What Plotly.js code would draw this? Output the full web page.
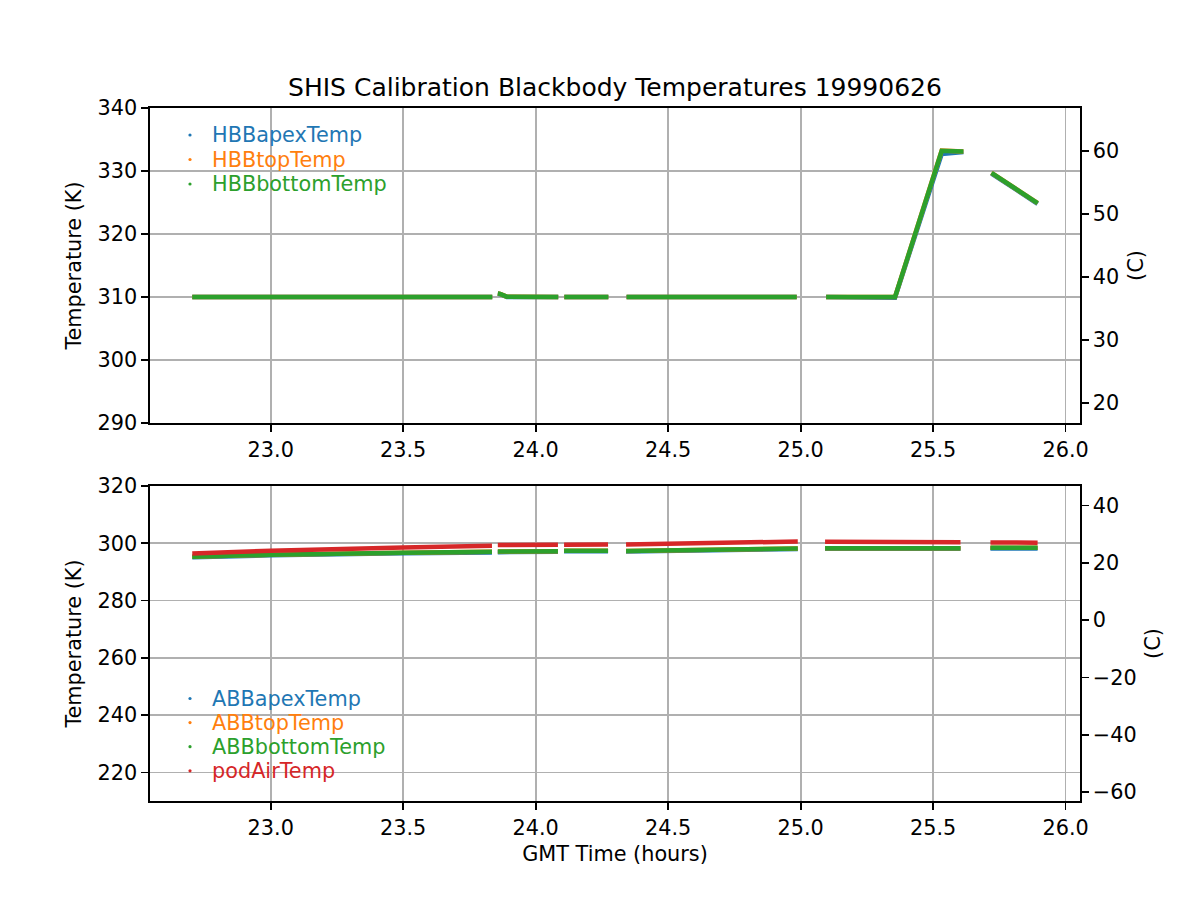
<!DOCTYPE html>
<html>
<head>
<meta charset="utf-8">
<script src="https://cdn.plot.ly/plotly-3.0.1.min.js"></script>
<style>html,body{margin:0;padding:0;background:#fff;}</style>
</head>
<body>
<div id="chart" style="width:1200px;height:900px;"></div>
<script>
// ---- Data (GMT hours, Kelvin) ----
var hbbTime   = [22.704, 23.836, null, 23.857, 23.866, 23.891, 24.085, null, 24.108, 24.274, null, 24.343, 24.985, null, 25.096, 25.356, 25.532, 25.614, null, 25.72, 25.815, 25.894];
var hbbApex   = [310.0, 310.0, null, 310.5, 310.45, 310.0, 310.0, null, 310.0, 310.0, null, 310.0, 310.0, null, 310.0, 309.9, 332.7, 333.0, null, 329.6, 327.0, 324.8];
var hbbTop    = [310.0, 310.0, null, 310.55, 310.5, 310.05, 310.0, null, 310.0, 310.0, null, 310.0, 310.0, null, 310.0, 310.0, 333.25, 333.1, null, 329.7, 327.0, 324.9];
var hbbBottom = [310.0, 310.0, null, 310.55, 310.5, 310.05, 310.0, null, 310.0, 310.0, null, 310.0, 310.0, null, 310.0, 310.0, 333.2, 333.1, null, 329.7, 327.0, 324.9];

var abbTime   = [22.704, 23.0, 23.5, 23.835, null, 23.857, 24.084, null, 24.107, 24.273, null, 24.341, 24.5, 24.75, 24.989, null, 25.092, 25.603, null, 25.716, 25.894];
var abbApex   = [295.1, 295.8, 296.5, 296.8, null, 296.9, 297.0, null, 297.2, 297.2, null, 297.1, 297.4, 297.8, 298.0, null, 298.1, 298.1, null, 298.2, 298.2];
var abbTop    = [295.3, 296.0, 296.7, 297.0, null, 297.1, 297.2, null, 297.4, 297.4, null, 297.3, 297.6, 298.0, 298.2, null, 298.3, 298.3, null, 298.4, 298.4];
var abbBottom = [295.3, 296.0, 296.7, 297.0, null, 297.1, 297.2, null, 297.4, 297.4, null, 297.3, 297.6, 298.0, 298.2, null, 298.3, 298.3, null, 298.4, 298.4];
var podAir    = [296.4, 297.4, 298.5, 299.1, null, 299.4, 299.5, null, 299.5, 299.6, null, 299.6, 299.8, 300.4, 300.6, null, 300.5, 300.4, null, 300.3, 300.2];

var topNames    = ['HBBapexTemp', 'HBBtopTemp', 'HBBbottomTemp'];
var bottomNames = ['ABBapexTemp', 'ABBtopTemp', 'ABBbottomTemp', 'podAirTemp'];
var colors = ['#1f77b4', '#ff7f0e', '#2ca02c', '#d62728'];

var titleText = 'SHIS Calibration Blackbody Temperatures 19990626';
var xLabel = 'GMT Time (hours)';
var yLabelK = 'Temperature (K)';
var yLabelC = '(C)';

var xRange = [22.5445, 26.054];
var topKRange = [290, 340];
var botKRange = [210, 320];
var K0 = 273.15;

// ---- Styling ----
var FONT = 'DejaVu Sans, Liberation Sans, sans-serif';
var FS = 20.8;
var LW = 4.5;

function toC(v) { return v === null ? null : v - K0; }

function mk(x, y, color, xa, ya, name) {
  return {x: x, y: y, type: 'scatter', mode: 'lines', name: name,
          line: {color: color, width: LW}, xaxis: xa, yaxis: ya,
          showlegend: false, hoverinfo: 'skip'};
}

var traces = [
  mk(hbbTime, hbbApex, colors[0], 'x', 'y', topNames[0]),
  mk(hbbTime, hbbTop, colors[1], 'x', 'y', topNames[1]),
  mk(hbbTime, hbbBottom, colors[2], 'x', 'y', topNames[2]),
  mk(abbTime, abbApex, colors[0], 'x2', 'y3', bottomNames[0]),
  mk(abbTime, abbTop, colors[1], 'x2', 'y3', bottomNames[1]),
  mk(abbTime, abbBottom, colors[2], 'x2', 'y3', bottomNames[2]),
  mk(abbTime, podAir, colors[3], 'x2', 'y3', bottomNames[3]),
  // Celsius twins (transparent) so the right-hand axes are drawn
  mk(hbbTime, hbbBottom.map(toC), 'rgba(0,0,0,0)', 'x', 'y2', 'HBB (C)'),
  mk(abbTime, abbBottom.map(toC), 'rgba(0,0,0,0)', 'x2', 'y4', 'ABB (C)')
];

var common = {
  showline: true, linecolor: '#000', linewidth: 1.6,
  ticks: 'outside', ticklen: 7, tickwidth: 1.6, tickcolor: '#000',
  tickfont: {family: FONT, size: FS, color: '#000'},
  zeroline: false, gridcolor: '#b0b0b0', gridwidth: 1.6
};
function ax(o) { var r = {}; for (var k in common) r[k] = common[k]; for (var k2 in o) r[k2] = o[k2]; return r; }

var plotH = 900 - 108 - 99;
var layout = {
  width: 1200, height: 900,
  margin: {l: 150, r: 120, t: 108, b: 99, pad: 0},
  paper_bgcolor: '#fff', plot_bgcolor: '#fff',
  font: {family: FONT, size: FS, color: '#000'},
  showlegend: false,
  title: {text: titleText, font: {family: FONT, size: 25, color: '#000'},
          x: 0.5, xref: 'paper', xanchor: 'center', y: 1 - 87/900, yref: 'container', yanchor: 'middle'},
  xaxis: ax({domain: [0, 1], anchor: 'y', range: xRange, tick0: 23, dtick: 0.5, tickformat: '.1f', showgrid: true, mirror: true}),
  yaxis: ax({domain: [(801 - 423) / plotH, 1], anchor: 'x', range: topKRange, dtick: 10, showgrid: true,
             title: {text: yLabelK, font: {family: FONT, size: FS}, standoff: 10}}),
  yaxis2: ax({overlaying: 'y', side: 'right', anchor: 'x', range: [topKRange[0] - K0, topKRange[1] - K0], dtick: 10, tick0: 0, showgrid: false,
             title: {text: yLabelC, font: {family: FONT, size: FS}, standoff: 10}}),
  xaxis2: ax({domain: [0, 1], anchor: 'y3', range: xRange, tick0: 23, dtick: 0.5, tickformat: '.1f', showgrid: true, mirror: true,
             title: {text: xLabel, font: {family: FONT, size: FS}, standoff: 8}}),
  yaxis3: ax({domain: [0, (801 - 486) / plotH], anchor: 'x2', range: botKRange, dtick: 20, showgrid: true,
             title: {text: yLabelK, font: {family: FONT, size: FS}, standoff: 10}}),
  yaxis4: ax({overlaying: 'y3', side: 'right', anchor: 'x2', range: [botKRange[0] - K0, botKRange[1] - K0], dtick: 20, tick0: 0, showgrid: false,
             title: {text: yLabelC, font: {family: FONT, size: FS}, standoff: 10}}),
  annotations: [],
  shapes: []
};

// Legends (drawn as coloured text + small dots, as in the reference)
function addLegend(names, startY, step) {
  names.forEach(function (n, i) {
    var py = startY + i * step;
    var yp = (801 - py) / plotH;
    layout.annotations.push({xref: 'paper', yref: 'paper', x: (209.5 - 150) / 930, y: yp,
      xanchor: 'left', yanchor: 'middle', showarrow: false, text: n,
      font: {family: FONT, size: FS, color: colors[i]}});
    layout.shapes.push({type: 'circle', xref: 'paper', yref: 'paper', xsizemode: 'pixel', ysizemode: 'pixel',
      xanchor: (190 - 150) / 930, yanchor: yp, x0: -1.6, x1: 1.6, y0: -1.6, y1: 1.6,
      fillcolor: colors[i], line: {width: 0}});
  });
}
addLegend(topNames, 135, 24.5);
addLegend(bottomNames, 698.5, 24.1);

Plotly.newPlot('chart', traces, layout, {staticPlot: true, displayModeBar: false});
</script>
</body>
</html>
